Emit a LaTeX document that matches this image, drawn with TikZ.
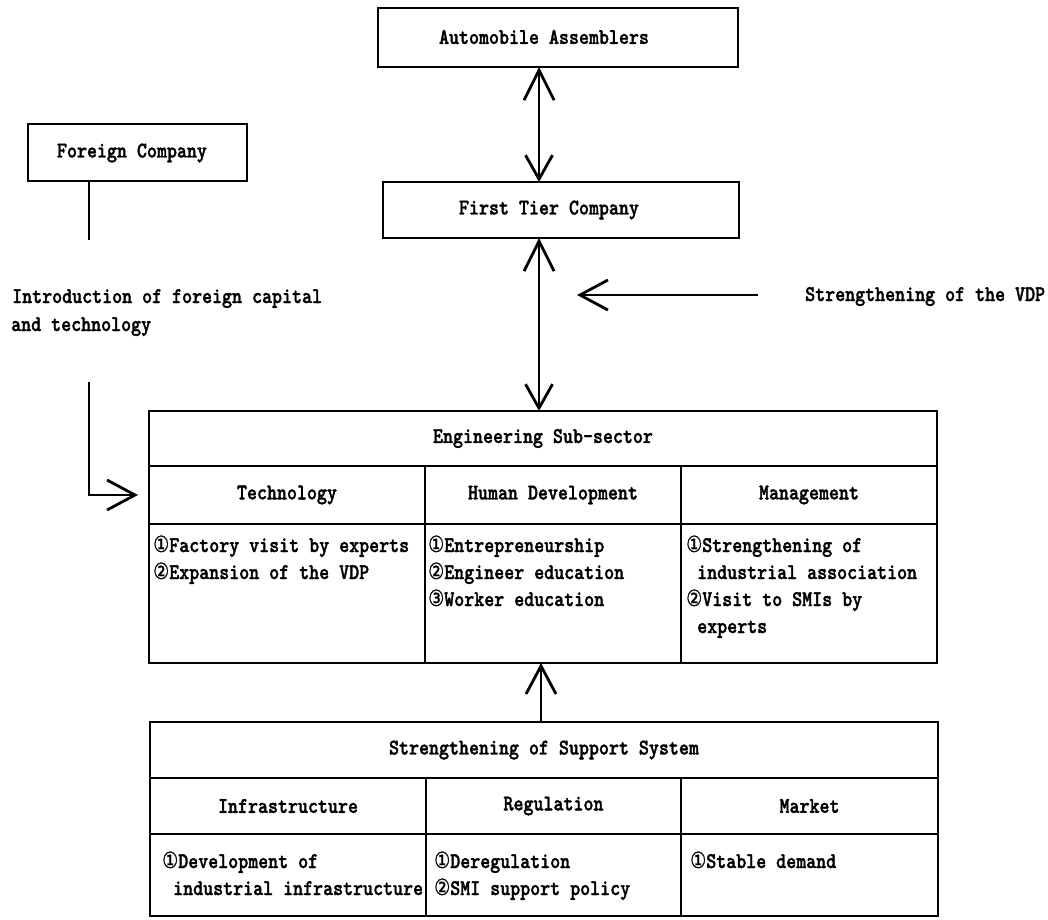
\documentclass[tikz,border=0pt]{standalone}
\usepackage{fontspec}
\setmainfont[FakeStretch=0.85, FakeBold=1.6, Extension=.otf]{lmmonolt10-bold}
\newfontfamily\circf[FakeStretch=0.8, FakeBold=1]{DejaVu Sans}
\usetikzlibrary{arrows.meta}
\newcommand\circnum[1]{{\circf #1}}
\tikzset{
  txt/.style={font=\fontsize{22.4}{27}\selectfont, inner sep=0pt},
  box/.style={draw, line width=1.5pt, inner sep=0pt, outer sep=0pt, anchor=north west,
              font=\fontsize{22.4}{27}\selectfont},
  conn/.style={line width=2pt},
  arr/.style={conn, -{Straight Barb[length=28pt,width=30pt,line width=2.8pt]}},
  darr/.style={conn, {Straight Barb[length=30pt,width=30pt,line width=2.8pt]}-{Straight Barb[length=24pt,width=27pt,line width=2.8pt]}}
}
\begin{document}
\begin{tikzpicture}[x=1pt,y=-1pt]
\useasboundingbox (0,0) rectangle (1048,919);
% top boxes
\node[box, minimum width=360pt, minimum height=59pt] (aa) at (378,8) {};
\node[txt] (aatxt) at (544,37) {Automobile Assemblers};
\node[box, minimum width=356pt, minimum height=56pt] (ft) at (383,182) {};
\node[txt] (fttxt) at (549,210) {First Tier Company};
\node[box, minimum width=219pt, minimum height=57pt] (fc) at (28,124) {};
\node[txt] (fctxt) at (132,153) {Foreign Company};
% engineering table
\node[box, minimum width=788pt, minimum height=55pt] (et) at (149,411) {Engineering Sub-sector};
\node[box, minimum width=276pt, minimum height=58pt] (eh1) at (149,466) {Technology};
\node[box, minimum width=256pt, minimum height=58pt] (eh2) at (425,466) {Human Development};
\node[box, minimum width=256pt, minimum height=58pt] (eh3) at (681,466) {Management};
\node[box, minimum width=276pt, minimum height=139pt] (ei1) at (149,524) {};
\node[box, minimum width=256pt, minimum height=139pt] (ei2) at (425,524) {};
\node[box, minimum width=256pt, minimum height=139pt] (ei3) at (681,524) {};
\node[txt, anchor=base west] (t1) at (153,552) {\circnum{①}Factory visit by experts};
\node[txt, anchor=base west] (t2) at (153,579) {\circnum{②}Expansion of the VDP};
\node[txt, anchor=base west] (h1) at (428,552) {\circnum{①}Entrepreneurship};
\node[txt, anchor=base west] (h2) at (428,579) {\circnum{②}Engineer education};
\node[txt, anchor=base west] (h3) at (428,606) {\circnum{③}Worker education};
\node[txt, anchor=base west] (m1) at (686,552) {\circnum{①}Strengthening of};
\node[txt, anchor=base west] (m2) at (697,579) {industrial association};
\node[txt, anchor=base west] (m3) at (686,606) {\circnum{②}Visit to SMIs by};
\node[txt, anchor=base west] (m4) at (697,633) {experts};
% support table
\node[box, minimum width=788pt, minimum height=56pt] (st) at (150,722) {Strengthening of Support System};
\node[box, minimum width=276pt, minimum height=56pt] (sh1) at (150,778) {Infrastructure};
\node[box, minimum width=255pt, minimum height=56pt] (sh2) at (426,778) {Regulation};
\node[box, minimum width=257pt, minimum height=56pt] (sh3) at (681,778) {Market};
\node[box, minimum width=276pt, minimum height=82pt] (si1) at (150,834) {};
\node[box, minimum width=255pt, minimum height=82pt] (si2) at (426,834) {};
\node[box, minimum width=257pt, minimum height=82pt] (si3) at (681,834) {};
\node[txt, anchor=base west] (i1) at (162,868) {\circnum{①}Development of};
\node[txt, anchor=base west] (i2) at (173,895) {industrial infrastructure};
\node[txt, anchor=base west] (r1) at (434,868) {\circnum{①}Deregulation};
\node[txt, anchor=base west] (r2) at (434,895) {\circnum{②}SMI support policy};
\node[txt, anchor=base west] (k1) at (690,868) {\circnum{①}Stable demand};
% side texts
\node[txt, anchor=base west] (vdp) at (805,301) {Strengthening of the VDP};
\node[txt, anchor=base west] (intro1) at (12,303) {Introduction of foreign capital};
\node[txt, anchor=base west] (intro2) at (11,331) {and technology};
% connectors
\coordinate (colA) at (539,0);
\coordinate (colB) at (541,0);
\draw[darr] (aa.south -| colA) -- (ft.north -| colA);
\draw[darr] (ft.south -| colA) -- (et.north -| colA);
\draw[arr] (st.north -| colB) -- (ei2.south -| colB);
\coordinate (vdpTail) at (758,295);
\coordinate (vdpTip) at (577,295);
\draw[arr] (vdpTail) -- (vdpTip);
\coordinate (fcEnd) at (89,240);
\draw[conn] (fc.south -| fcEnd) -- (fcEnd);
\coordinate (introStart) at (89,382);
\coordinate (introTip) at (138,495);
\draw[arr] (introStart) |- (introTip);
\end{tikzpicture}
\end{document}
